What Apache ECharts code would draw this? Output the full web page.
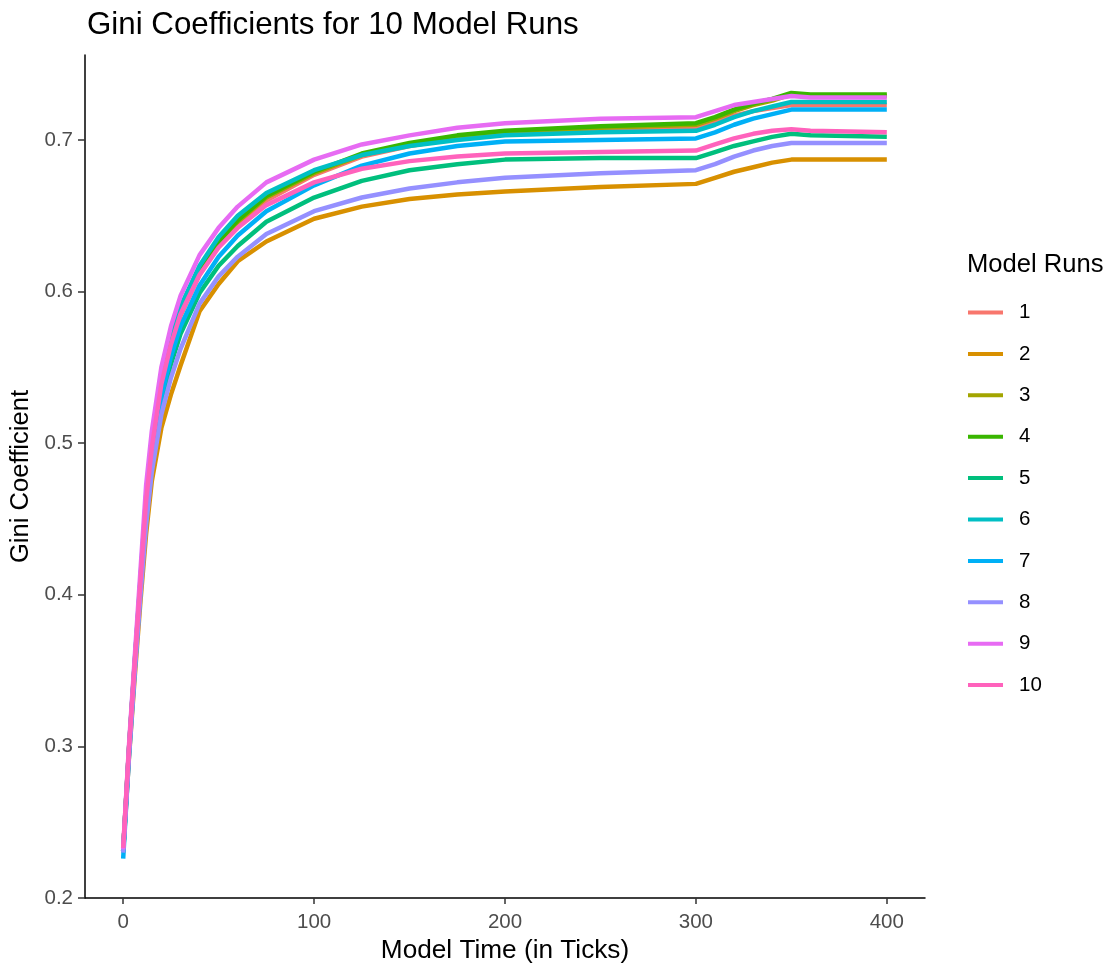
<!DOCTYPE html>
<html>
<head>
<meta charset="utf-8">
<title>Gini Coefficients</title>
<script src="https://cdn.jsdelivr.net/npm/echarts@6/dist/echarts.min.js"></script>
<style>
  html, body { margin: 0; padding: 0; background: #fff; }
  #main { width: 1109px; height: 968px; }
</style>
</head>
<body>
<div id="main"></div>
<script>
// model time (ticks) at which the curves were read
var ticks = [0, 3, 6, 9, 12, 15, 20, 25, 30, 40, 50, 60, 75, 100, 125, 150, 175, 200, 250, 300, 310, 320, 330, 340, 350, 360, 400];

// gini value per run
var run1  = [0.231,0.297,0.353,0.406,0.460,0.495,0.537,0.564,0.584,0.611,0.630,0.644,0.660,0.677,0.689,0.696,0.701,0.704,0.706,0.708,0.712,0.716,0.719,0.721,0.723,0.723,0.723];
var run2  = [0.230,0.292,0.345,0.395,0.440,0.475,0.510,0.532,0.551,0.587,0.605,0.620,0.633,0.648,0.656,0.661,0.664,0.666,0.669,0.671,0.675,0.679,0.682,0.685,0.687,0.687,0.687];
var run3  = [0.231,0.297,0.353,0.407,0.461,0.496,0.539,0.566,0.586,0.613,0.632,0.646,0.662,0.678,0.690,0.697,0.702,0.705,0.708,0.710,0.714,0.719,0.723,0.726,0.730,0.729,0.729];
var run4  = [0.231,0.297,0.354,0.408,0.462,0.497,0.540,0.567,0.587,0.614,0.633,0.647,0.663,0.679,0.691,0.698,0.703,0.706,0.709,0.711,0.715,0.720,0.724,0.727,0.731,0.730,0.730];
var run5  = [0.231,0.295,0.351,0.403,0.453,0.487,0.527,0.552,0.572,0.599,0.617,0.630,0.646,0.662,0.673,0.680,0.684,0.687,0.688,0.688,0.692,0.696,0.699,0.702,0.704,0.703,0.702];
var run6  = [0.231,0.298,0.355,0.410,0.465,0.500,0.543,0.570,0.590,0.617,0.636,0.650,0.665,0.680,0.690,0.696,0.700,0.703,0.705,0.706,0.710,0.715,0.719,0.722,0.725,0.725,0.725];
var run7  = [0.226,0.293,0.350,0.403,0.455,0.490,0.531,0.557,0.577,0.604,0.623,0.637,0.653,0.670,0.683,0.691,0.696,0.699,0.700,0.701,0.705,0.710,0.714,0.717,0.720,0.720,0.720];
var run8  = [0.230,0.293,0.348,0.399,0.446,0.481,0.519,0.543,0.562,0.592,0.610,0.623,0.638,0.653,0.662,0.668,0.672,0.675,0.678,0.680,0.684,0.689,0.693,0.696,0.698,0.698,0.698];
var run9  = [0.232,0.300,0.358,0.415,0.472,0.508,0.550,0.577,0.597,0.624,0.642,0.656,0.672,0.687,0.697,0.703,0.708,0.711,0.714,0.715,0.719,0.723,0.725,0.727,0.729,0.728,0.728];
var run10 = [0.233,0.298,0.354,0.408,0.462,0.497,0.539,0.565,0.585,0.611,0.629,0.642,0.657,0.672,0.681,0.686,0.689,0.691,0.692,0.693,0.697,0.701,0.704,0.706,0.707,0.706,0.705];

var runNames = ['1', '2', '3', '4', '5', '6', '7', '8', '9', '10'];
var runColors = ['#F8766D', '#D89000', '#A3A500', '#39B600', '#00BF7D', '#00BFC4', '#00B0F6', '#9590FF', '#E76BF3', '#FF62BC'];
var runs = [run1, run2, run3, run4, run5, run6, run7, run8, run9, run10];

var xTicks = [0, 100, 200, 300, 400];
var yTicks = [0.2, 0.3, 0.4, 0.5, 0.6, 0.7];

var font = 'Liberation Sans, Arial, sans-serif';

var series = [];
for (var i = 0; i < runs.length; i++) {
  var pts = [];
  for (var j = 0; j < ticks.length; j++) {
    pts.push([ticks[j], runs[i][j]]);
  }
  series.push({
    name: runNames[i],
    type: 'line',
    data: pts,
    symbol: 'none',
    animation: false,
    lineStyle: { width: 4.5, color: runColors[i] },
    itemStyle: { color: runColors[i] }
  });
}

var chart = echarts.init(document.getElementById('main'));
var option = {
  backgroundColor: '#fff',
  animation: false,
  title: [{
    text: 'Gini Coefficients for 10 Model Runs',
    left: 82,
    top: 5,
    textStyle: { color: '#000', fontSize: 31.3, fontWeight: 'normal', fontFamily: font }
  }, {
    text: 'Model Runs',
    left: 962,
    top: 247,
    textStyle: { color: '#000', fontSize: 25.6, fontWeight: 'normal', fontFamily: font }
  }],
  legend: {
    orient: 'vertical',
    left: 963,
    top: 297,
    icon: 'rect',
    itemWidth: 35,
    itemHeight: 4,
    itemGap: 20.4,
    data: runNames,
    textStyle: { color: '#000', fontSize: 20.5, lineHeight: 20, fontFamily: font, padding: [0, 0, 0, 11] }
  },
  grid: { left: 85, right: 184, top: 55, bottom: 70, outerBoundsMode: 'none' },
  xAxis: {
    type: 'value',
    min: -20,
    max: 420,
    interval: 100,
    name: 'Model Time (in Ticks)',
    nameLocation: 'middle',
    nameGap: 40,
    nameTextStyle: { color: '#000', fontSize: 26.2, fontFamily: font },
    axisLine: { show: true, onZero: false, lineStyle: { color: '#000', width: 1.5 } },
    axisTick: { show: true, length: 6, lineStyle: { color: '#333', width: 1.5 },
      customValues: xTicks },
    axisLabel: { color: '#4D4D4D', fontSize: 20.5, fontFamily: font, margin: 14,
      customValues: xTicks },
    splitLine: { show: false }
  },
  yAxis: {
    type: 'value',
    min: 0.2,
    max: 0.756,
    interval: 0.1,
    name: 'Gini Coefficient',
    nameLocation: 'middle',
    nameGap: 46,
    nameTextStyle: { color: '#000', fontSize: 25.6, fontFamily: font },
    axisLine: { show: true, onZero: false, lineStyle: { color: '#000', width: 1.5 } },
    axisTick: { show: true, length: 7, lineStyle: { color: '#333', width: 1.5 },
      customValues: yTicks },
    axisLabel: { color: '#4D4D4D', fontSize: 20.5, fontFamily: font, margin: 12,
      customValues: yTicks },
    splitLine: { show: false }
  },
  series: series
};
chart.setOption(option);
</script>
</body>
</html>
